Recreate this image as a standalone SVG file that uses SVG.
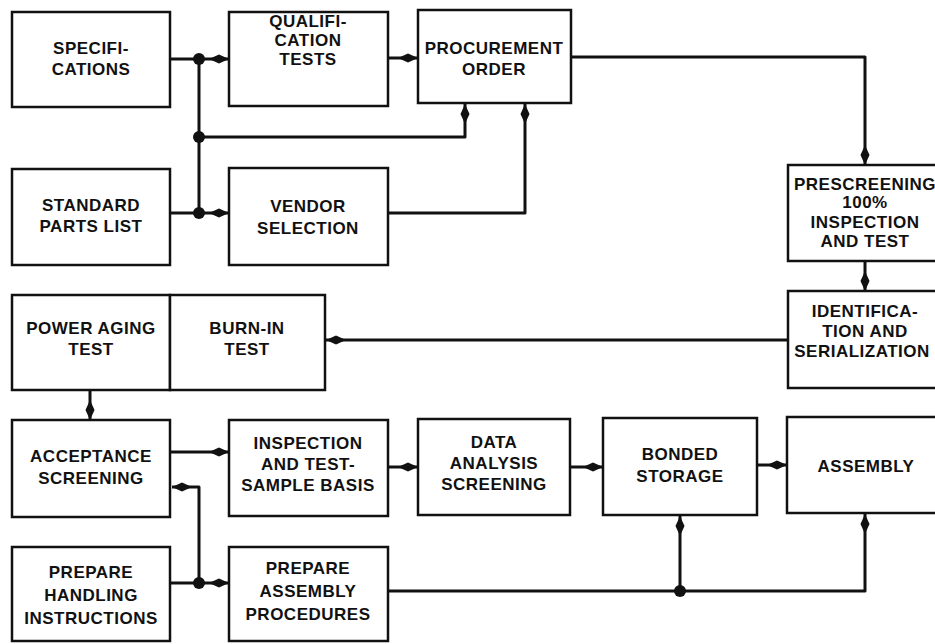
<svg xmlns="http://www.w3.org/2000/svg" width="935" height="644" viewBox="0 0 935 644">
<style>
.box{fill:#fff;stroke:#111;stroke-width:2.5}
.t{font-family:"Liberation Sans",Arial,sans-serif;font-weight:bold;font-size:17px;fill:#111;text-anchor:middle;letter-spacing:0.5px}
.c{fill:none;stroke:#111;stroke-width:3;stroke-linejoin:round}
.a{marker-end:url(#ah)}
.dot{fill:#111}
</style>
<defs>
<marker id="ah" markerUnits="userSpaceOnUse" markerWidth="24" markerHeight="12" viewBox="-22 -6 24 12" refX="0" refY="0" orient="auto" overflow="visible">
<path d="M0,0 L-10,-4.5 L-20,0 L-10,4.5 Z" fill="#111"/>
</marker>
</defs>
<rect width="935" height="644" fill="#fff"/>
<g id="connectors">
<path class="c a" d="M170,59 H229"/>
<path class="c" d="M199,59 V213"/>
<path class="c a" d="M170,213 H229"/>
<path class="c a" d="M199,137 H465 V104"/>
<path class="c a" d="M388,58 H418"/>
<path class="c a" d="M388,213 H525 V104"/>
<path class="c a" d="M571,57 H865 V165"/>
<path class="c a" d="M865,261 V291"/>
<path class="c a" d="M788,340 H326"/>
<path class="c a" d="M90,390 V420"/>
<path class="c a" d="M170,452 H229"/>
<path class="c a" d="M170,583 H229"/>
<path class="c a" d="M199,583 V487 H172"/>
<path class="c a" d="M388,467 H418"/>
<path class="c a" d="M570,467 H603"/>
<path class="c a" d="M757,465 H787"/>
<path class="c a" d="M388,591 H865 V514"/>
<path class="c a" d="M680,591 V516"/>
<circle class="dot" cx="199" cy="59" r="6"/>
<circle class="dot" cx="199" cy="137" r="6"/>
<circle class="dot" cx="199" cy="213" r="6"/>
<circle class="dot" cx="199" cy="583" r="6"/>
<circle class="dot" cx="680" cy="591" r="6"/>
</g>
<g id="specifications"><rect class="box" x="12" y="12" width="158" height="95"/><text class="t"><tspan x="91" y="54">SPECIFI-</tspan><tspan x="91" y="75">CATIONS</tspan></text></g>
<g id="qualification"><rect class="box" x="229" y="12" width="159" height="94"/><text class="t"><tspan x="308" y="27">QUALIFI-</tspan><tspan x="308" y="46">CATION</tspan><tspan x="308" y="65">TESTS</tspan></text></g>
<g id="procurement"><rect class="box" x="418" y="10" width="153" height="93"/><text class="t"><tspan x="494" y="54">PROCUREMENT</tspan><tspan x="494" y="75">ORDER</tspan></text></g>
<g id="standard"><rect class="box" x="12" y="169" width="158" height="96"/><text class="t"><tspan x="91" y="211">STANDARD</tspan><tspan x="91" y="232">PARTS LIST</tspan></text></g>
<g id="vendor"><rect class="box" x="229" y="168" width="159" height="97"/><text class="t"><tspan x="308" y="212">VENDOR</tspan><tspan x="308" y="234">SELECTION</tspan></text></g>
<g id="prescreening"><rect class="box" x="788" y="165" width="154" height="96"/><text class="t"><tspan x="865" y="190">PRESCREENING</tspan><tspan x="865" y="208">100%</tspan><tspan x="865" y="228">INSPECTION</tspan><tspan x="865" y="247">AND TEST</tspan></text></g>
<g id="identification"><rect class="box" x="788" y="291" width="154" height="97"/><text class="t"><tspan x="865" y="317">IDENTIFICA-</tspan><tspan x="865" y="337">TION AND</tspan><tspan x="862" y="357">SERIALIZATION</tspan></text></g>
<g id="power-aging"><rect class="box" x="12" y="295" width="158" height="95"/><text class="t"><tspan x="91" y="334">POWER AGING</tspan><tspan x="91" y="355">TEST</tspan></text></g>
<g id="burn-in"><rect class="box" x="170" y="295" width="155" height="95"/><text class="t"><tspan x="247" y="334">BURN-IN</tspan><tspan x="247" y="355">TEST</tspan></text></g>
<g id="acceptance"><rect class="box" x="12" y="420" width="158" height="97"/><text class="t"><tspan x="91" y="462">ACCEPTANCE</tspan><tspan x="91" y="484">SCREENING</tspan></text></g>
<g id="inspection"><rect class="box" x="229" y="420" width="159" height="96"/><text class="t"><tspan x="308" y="449">INSPECTION</tspan><tspan x="308" y="470">AND TEST-</tspan><tspan x="308" y="491">SAMPLE BASIS</tspan></text></g>
<g id="data-analysis"><rect class="box" x="418" y="419" width="152" height="96"/><text class="t"><tspan x="494" y="448">DATA</tspan><tspan x="494" y="469">ANALYSIS</tspan><tspan x="494" y="490">SCREENING</tspan></text></g>
<g id="bonded-storage"><rect class="box" x="603" y="418" width="154" height="97"/><text class="t"><tspan x="680" y="460">BONDED</tspan><tspan x="680" y="482">STORAGE</tspan></text></g>
<g id="assembly"><rect class="box" x="787" y="417" width="155" height="96"/><text class="t"><tspan x="866" y="472">ASSEMBLY</tspan></text></g>
<g id="handling"><rect class="box" x="12" y="547" width="158" height="94"/><text class="t"><tspan x="91" y="578">PREPARE</tspan><tspan x="91" y="601">HANDLING</tspan><tspan x="91" y="624">INSTRUCTIONS</tspan></text></g>
<g id="assembly-procedures"><rect class="box" x="229" y="547" width="159" height="94"/><text class="t"><tspan x="308" y="574">PREPARE</tspan><tspan x="308" y="597">ASSEMBLY</tspan><tspan x="308" y="620">PROCEDURES</tspan></text></g>
</svg>
